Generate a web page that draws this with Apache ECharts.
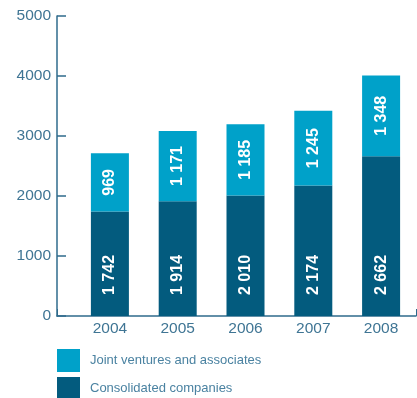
<!DOCTYPE html>
<html>
<head>
<meta charset="utf-8">
<script src="https://cdn.jsdelivr.net/npm/echarts@6/dist/echarts.min.js"></script>
<style>
  html, body { margin: 0; padding: 0; background: #ffffff; }
  #chart { width: 417px; height: 398px; }
</style>
</head>
<body>
<div id="chart"></div>
<script>
// Years on the category axis
const years = ['2004', '2005', '2006', '2007', '2008'];
// Stacked values per year
const consolidated = [1742, 1914, 2010, 2174, 2662];
const jointVentures = [969, 1171, 1185, 1245, 1348];
// Value axis
const yTicks = [0, 1000, 2000, 3000, 4000, 5000];

const LIGHT = '#00a1c9';
const DARK = '#035b7e';
const AXIS = '#2f6b8c';
const TEXT = '#3f7594';
const LEGEND_TEXT = '#4a82a1';
const FONT = '"Liberation Sans", Arial, Helvetica, sans-serif';

// "1742" -> "1 742"
function spaced(v) {
  return String(v).replace(/\B(?=(\d{3})+(?!\d))/g, ' ');
}

const legendText = { color: LEGEND_TEXT, fontSize: 13, fontFamily: FONT, padding: [0, 0, 0, 5] };

function legendAt(top, name) {
  return {
    left: 57,
    top: top,
    padding: 0,
    itemWidth: 23,
    itemHeight: 23,
    icon: 'rect',
    data: [name],
    textStyle: legendText
  };
}

const chart = echarts.init(document.getElementById('chart'), null, { renderer: 'canvas' });

chart.setOption({
  animation: false,
  backgroundColor: '#ffffff',
  textStyle: { fontFamily: FONT },
  grid: [
    { left: 76, right: 2, top: 16, height: 300 },
    { left: 57, right: 1, top: 16, height: 300 }
  ],
  legend: [
    legendAt(349, 'Joint ventures and associates'),
    legendAt(377, 'Consolidated companies')
  ],
  xAxis: [
    {
      gridIndex: 0,
      type: 'category',
      data: years,
      axisLine: { show: false },
      axisTick: { show: false },
      axisLabel: { color: TEXT, fontSize: 15.5, margin: 5, fontFamily: FONT }
    },
    {
      gridIndex: 1,
      type: 'value',
      min: 0,
      max: 1,
      interval: 1,
      axisLine: { show: true, lineStyle: { color: AXIS, width: 1.5 } },
      axisTick: { show: true, inside: true, length: 7, lineStyle: { color: AXIS, width: 1 } },
      axisLabel: { show: false },
      splitLine: { show: false }
    }
  ],
  yAxis: [
    {
      gridIndex: 0,
      type: 'value',
      min: yTicks[0],
      max: yTicks[yTicks.length - 1],
      interval: 1000,
      offset: 19,
      axisLine: { show: true, lineStyle: { color: AXIS, width: 1.5 } },
      axisTick: { show: true, inside: true, length: 9, lineStyle: { color: AXIS, width: 1.5 } },
      axisLabel: { color: TEXT, fontSize: 15.5, margin: 6, fontFamily: FONT, formatter: v => String(v) },
      splitLine: { show: false }
    },
    {
      gridIndex: 1,
      type: 'value',
      min: 0,
      max: 1,
      show: false
    }
  ],
  series: [
    {
      name: 'Consolidated companies',
      type: 'bar',
      stack: 'total',
      xAxisIndex: 0,
      yAxisIndex: 0,
      data: consolidated,
      barWidth: 38,
      itemStyle: { color: DARK },
      label: {
        show: true,
        position: 'insideBottom',
        distance: 21,
        rotate: 90,
        align: 'left',
        verticalAlign: 'middle',
        color: '#ffffff',
        fontSize: 16,
        fontWeight: 'bold',
        fontFamily: FONT,
        formatter: p => spaced(p.value)
      }
    },
    {
      name: 'Joint ventures and associates',
      type: 'bar',
      stack: 'total',
      xAxisIndex: 0,
      yAxisIndex: 0,
      data: jointVentures,
      barWidth: 38,
      itemStyle: { color: LIGHT },
      label: {
        show: true,
        position: 'inside',
        rotate: 90,
        color: '#ffffff',
        fontSize: 16,
        fontWeight: 'bold',
        fontFamily: FONT,
        formatter: p => spaced(p.value)
      }
    }
  ]
});
</script>
</body>
</html>
